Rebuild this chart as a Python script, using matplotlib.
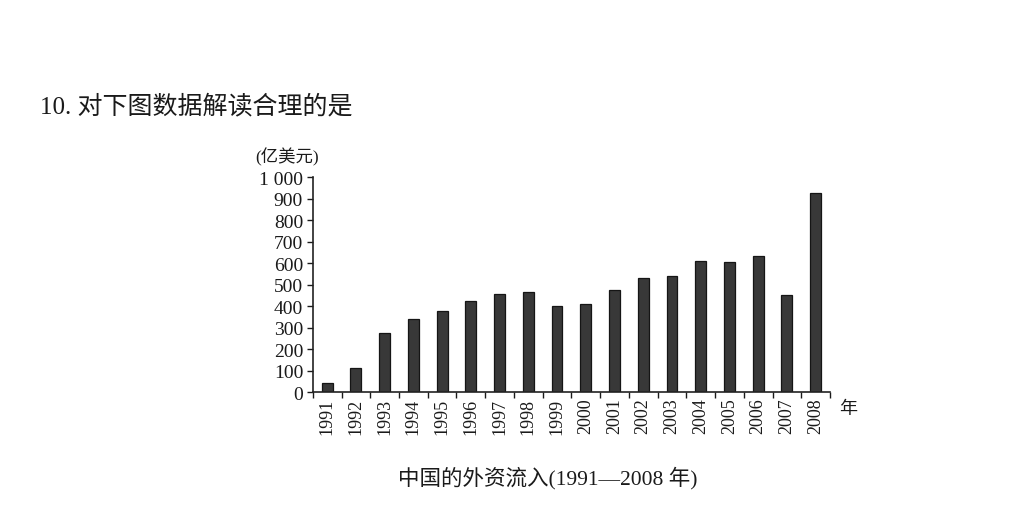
import matplotlib
matplotlib.use("Agg")
import matplotlib.pyplot as plt
import numpy as np

# data (亿美元)
years = [str(y) for y in range(1991, 2009)]
inflow = [44, 110, 276, 339, 375, 422, 456, 464, 398, 411,
          473, 531, 539, 608, 606, 631, 451, 926]
yticks = [0, 100, 200, 300, 400, 500, 600, 700, 800, 900, 1000]
ytick_labels = ["0", "100", "200", "300", "400", "500", "600", "700", "800", "900", "1 000"]

fam = ["Liberation Serif", "Noto Sans CJK SC"]
plt.rcParams["font.family"] = fam
plt.rcParams["text.color"] = "#1a1a1a"
plt.rcParams["xtick.color"] = "#1a1a1a"
plt.rcParams["ytick.color"] = "#1a1a1a"

fig = plt.figure(figsize=(10.19, 5.06), dpi=100)
ax = fig.add_axes([0.307, 0.2233, 0.5075, 0.4248])

x = np.arange(len(years))
ax.bar(x, inflow, width=0.38, color="#383838", edgecolor="#151515", linewidth=0.9)

ax.set_xlim(-0.5, len(years) - 0.5)
ax.set_ylim(0, 1000)
ax.set_yticks(yticks)
ax.set_yticklabels(ytick_labels, fontsize=14)
ax.set_xticks(x)
ax.set_xticklabels(years, rotation=90, fontsize=13)
ax.set_xticks(np.arange(len(years) + 1) - 0.5, minor=True)
ax.tick_params(axis="x", which="major", length=0, pad=4)
ax.tick_params(axis="x", which="minor", length=4, width=1, direction="out")
ax.tick_params(axis="y", length=4, width=1, direction="out", pad=3)

for s in ["top", "right"]:
    ax.spines[s].set_visible(False)
for s in ["left", "bottom"]:
    ax.spines[s].set_linewidth(1.2)
    ax.spines[s].set_color("#222222")

fig.text(0.25, 0.69, "(亿美元)", fontsize=12.5, family=fam, va="center", ha="left")
fig.text(0.823, 0.19, "年", fontsize=13, family=fam, va="center", ha="left")

fig.text(0.039, 0.789, "10. 对下图数据解读合理的是", fontsize=18, va="center", ha="left")
fig.text(0.538, 0.055, "中国的外资流入(1991—2008 年)", fontsize=15.5, va="center", ha="center")

fig.savefig("out.png", dpi=100, facecolor="white")
